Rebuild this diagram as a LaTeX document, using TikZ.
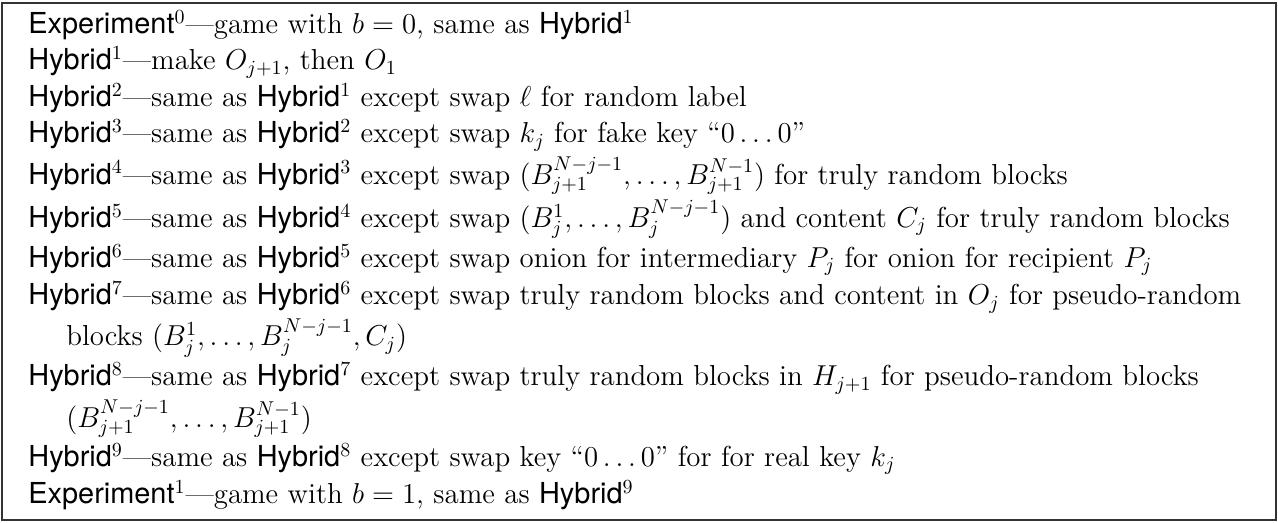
\documentclass[tikz,border=0pt]{standalone}
\usepackage{fontspec}
\setmainfont{lmroman12-regular.otf}[ItalicFont=lmroman12-italic.otf,BoldFont=lmroman12-bold.otf]
\newfontfamily\hybfont{TeX Gyre Heros}
\newcommand{\Hyb}[1]{{\hybfont Hybrid}$^{#1}$}
\newcommand{\Exper}[1]{{\hybfont Experiment}$^{#1}$}
\begin{document}
\begin{tikzpicture}[x=1pt,y=1pt,
  frame/.style={draw=black!80, line width=0.6pt},
  listtext/.style={anchor=north west, inner sep=0pt, align=left,
    font=\fontsize{14.45}{18}\selectfont\setlength\lineskip{2.8pt}\setlength\lineskiplimit{2.8pt}}]
\useasboundingbox (0,0) rectangle (639,-261.5);
\draw[frame] (1,-1.5) rectangle (638,-260);
\node[listtext] (txt) at (14,-5) {%
\Exper{0}---game with $b=0$, same as \Hyb{1}\\
\Hyb{1}---make $O_{j+1}$, then $O_1$\\
\Hyb{2}---same as \Hyb{1} except swap $\ell$ for random label\\
\Hyb{3}---same as \Hyb{2} except swap $k_j$ for fake key “$0\ldots0$”\\
\Hyb{4}---same as \Hyb{3} except swap $(B_{j+1}^{N-j-1},\ldots,B_{j+1}^{N-1})$ for truly random blocks\\
\Hyb{5}---same as \Hyb{4} except swap $(B_j^1,\ldots,B_j^{N-j-1})$ and content $C_j$ for truly random blocks\\
\Hyb{6}---same as \Hyb{5} except swap onion for intermediary $P_j$ for onion for recipient $P_j$\\
\Hyb{7}---same as \Hyb{6} except swap truly random blocks and content in $O_j$ for pseudo-random\\
\hspace*{19pt}blocks $(B_j^1,\ldots,B_j^{N-j-1},C_j)$\\
\Hyb{8}---same as \Hyb{7} except swap truly random blocks in $H_{j+1}$ for pseudo-random blocks\\
\hspace*{19pt}$(B_{j+1}^{N-j-1},\ldots,B_{j+1}^{N-1})$\\
\Hyb{9}---same as \Hyb{8} except swap key “$0\ldots0$” for for real key $k_j$\\
\Exper{1}---game with $b=1$, same as \Hyb{9}};
\end{tikzpicture}
\end{document}
